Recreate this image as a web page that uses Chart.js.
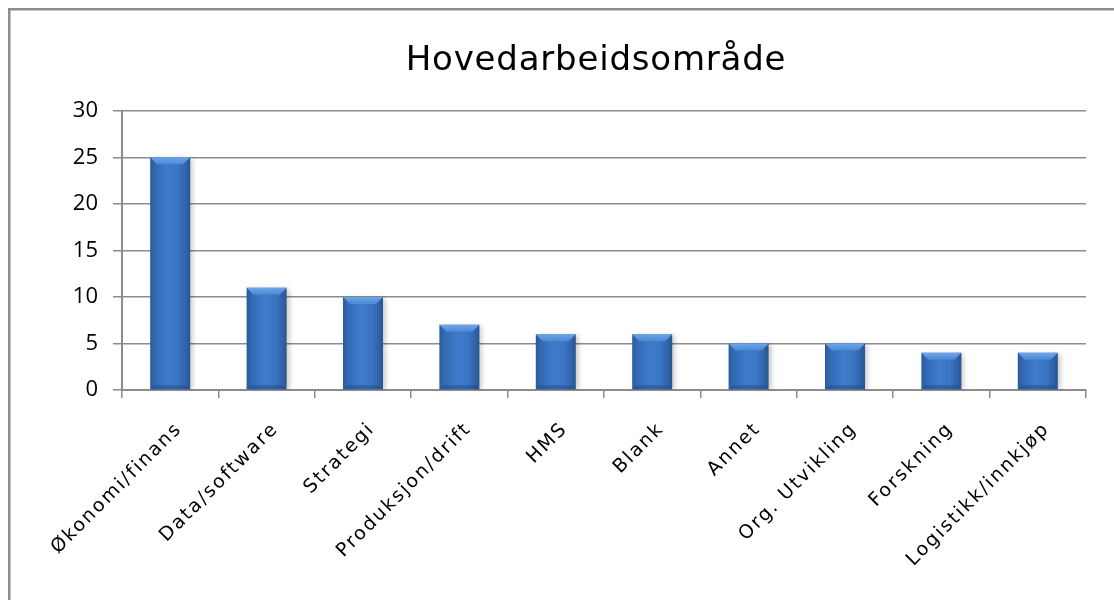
<!DOCTYPE html>
<html>
<head>
<meta charset="utf-8">
<script src="https://cdn.jsdelivr.net/npm/chart.js@4.4.1/dist/chart.umd.min.js"></script>
<style>
  html, body { margin: 0; padding: 0; background: #ffffff; }
  #wrap { width: 1114px; height: 600px; position: relative; }
</style>
</head>
<body>
<div id="wrap"><canvas id="c" width="1114" height="600"></canvas></div>
<script>
const titleText = 'Hovedarbeidsområde';
const categories = ['Økonomi/finans', 'Data/software', 'Strategi', 'Produksjon/drift', 'HMS', 'Blank', 'Annet', 'Org. Utvikling', 'Forskning', 'Logistikk/innkjøp'];
const values = [25, 11, 10, 7, 6, 6, 5, 5, 4, 4];
const yMin = 0, yMax = 30, yStep = 5;

const BAR_FRACTION = 0.415;

function withSpacing(fn, spacing, dx) {
  return function (...args) {
    const ctx = this.ctx;
    ctx.save();
    ctx.letterSpacing = spacing;
    if (dx) ctx.translate(dx, 0);
    const r = fn.apply(this, args);
    ctx.restore();
    return r;
  };
}

const framePlugin = {
  id: 'frame',
  beforeDraw(chart) {
    const ctx = chart.ctx;
    const xs = chart.scales.x;
    if (xs && !xs._spaced) { xs.drawLabels = withSpacing(xs.drawLabels, '2px', 0); xs._spaced = true; }
    const tb = chart.titleBlock;
    if (tb && !tb._spaced) { tb.draw = withSpacing(tb.draw, '0.8px', 28); tb._spaced = true; }
    ctx.save();
    ctx.fillStyle = '#ffffff';
    ctx.fillRect(0, 0, chart.width, chart.height);
    ctx.strokeStyle = '#8c8c8c';
    ctx.lineWidth = 2.5;
    ctx.strokeRect(9.25, 9.25, chart.width + 50, chart.height + 50);
    ctx.restore();
  }
};

const barStylePlugin = {
  id: 'barStyle',
  beforeDatasetDraw(chart) {
    const ctx = chart.ctx;
    ctx.save();
    ctx.shadowColor = 'rgba(0,0,0,0.22)';
    ctx.shadowBlur = 5;
    ctx.shadowOffsetX = 3;
    ctx.shadowOffsetY = 1;
  },
  afterDatasetDraw(chart) {
    const ctx = chart.ctx;
    ctx.restore();
    const meta = chart.getDatasetMeta(0);
    ctx.save();
    meta.data.forEach((el) => {
      const p = el.getProps(['x', 'y', 'width', 'base'], true);
      const l = p.x - p.width / 2, r = p.x + p.width / 2, t = p.y, b = p.base;
      const bev = 7;
      ctx.beginPath();
      ctx.moveTo(l, t);
      ctx.lineTo(r, t);
      ctx.lineTo(r - bev, t + bev);
      ctx.lineTo(l + bev, t + bev);
      ctx.closePath();
      const g = ctx.createLinearGradient(0, t, 0, t + bev);
      g.addColorStop(0, '#6fa6e6');
      g.addColorStop(1, '#4a88d6');
      ctx.fillStyle = g;
      ctx.fill();
      ctx.beginPath();
      ctx.moveTo(l, b);
      ctx.lineTo(r, b);
      ctx.lineTo(r - 4, b - 4);
      ctx.lineTo(l + 4, b - 4);
      ctx.closePath();
      ctx.fillStyle = 'rgba(30,70,130,0.45)';
      ctx.fill();
    });
    ctx.restore();
  }
};

function barFill(context) {
  const chart = context.chart;
  const xs = chart.scales && chart.scales.x;
  if (!xs || context.type !== 'data' || !isFinite(xs.left)) return '#3a76c6';
  const cx = xs.getPixelForValue(context.dataIndex);
  const w = (xs.width / categories.length) * BAR_FRACTION;
  const g = chart.ctx.createLinearGradient(cx - w / 2, 0, cx + w / 2, 0);
  g.addColorStop(0, '#2a5a9b');
  g.addColorStop(0.12, '#3469b2');
  g.addColorStop(0.45, '#3d7bcb');
  g.addColorStop(0.7, '#3a75c4');
  g.addColorStop(0.9, '#3062a8');
  g.addColorStop(1, '#28558f');
  return g;
}

new Chart(document.getElementById('c'), {
  type: 'bar',
  data: {
    labels: categories,
    datasets: [{
      data: values,
      backgroundColor: barFill,
      borderWidth: 0,
      barPercentage: 1,
      categoryPercentage: BAR_FRACTION
    }]
  },
  options: {
    responsive: false,
    animation: false,
    events: [],
    layout: { padding: { left: 50, right: 28, top: 0, bottom: 0 } },
    plugins: {
      legend: { display: false },
      tooltip: { enabled: false },
      title: {
        display: true,
        text: titleText,
        color: '#000000',
        font: { family: 'DejaVu Sans', size: 34, weight: 'normal', lineHeight: 1.2 },
        padding: { top: 41, bottom: 29 }
      }
    },
    scales: {
      x: {
        offset: true,
        grid: {
          display: true,
          offset: true,
          drawOnChartArea: false,
          drawTicks: true,
          tickLength: 8,
          color: '#8c8c8c',
          lineWidth: 1.5
        },
        border: { display: true, color: '#8c8c8c', width: 2 },
        ticks: {
          color: '#000000',
          font: { family: 'DejaVu Sans', size: 19 },
          minRotation: 45,
          maxRotation: 45,
          autoSkip: false,
          padding: 20,
          labelOffset: 9
        },
        afterFit(scale) { scale.height = 210; }
      },
      y: {
        min: yMin,
        max: yMax,
        grid: {
          color: '#8c8c8c',
          lineWidth: 1.5,
          tickLength: 9,
          drawTicks: true
        },
        border: { display: true, color: '#8c8c8c', width: 2 },
        ticks: {
          stepSize: yStep,
          color: '#000000',
          font: { family: 'Open Sans', size: 22 },
          padding: 15
        },
        afterFit(scale) { scale.width = 72; }
      }
    }
  },
  plugins: [framePlugin, barStylePlugin]
});
</script>
</body>
</html>
